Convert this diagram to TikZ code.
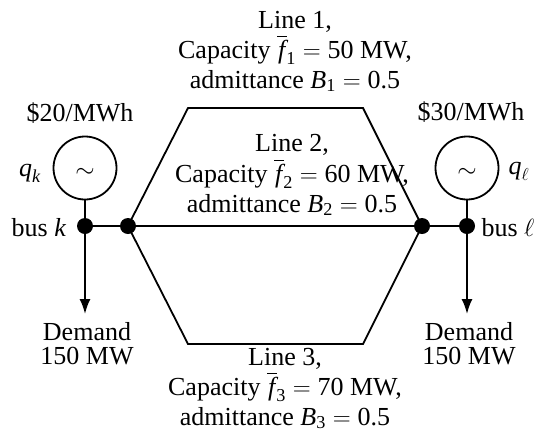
\documentclass[tikz,border=0pt]{standalone}
\usepackage{amsmath}
\usepackage{fontspec}
\setmainfont{Liberation Serif}
\usetikzlibrary{arrows.meta}
\newcommand{\vi}[1]{\textit{#1}}
\newcommand{\capty}[2]{Capacity $\overline{\kern1pt\vi{f}\kern2pt}_{\kern-1pt\text{#1}}=\text{#2}$ MW,}
\newcommand{\admt}[1]{admittance $\vi{B}_{\text{#1}}=\text{0.5}$}
\begin{document}
\begin{tikzpicture}[x=1pt,y=-1pt,
  wire/.style={line width=1.8pt},
  busdot/.style={circle,fill=black,inner sep=0pt,minimum size=16pt},
  gen/.style={circle,draw,line width=1.8pt,minimum size=63pt,inner sep=0pt},
  lbl/.style={anchor=base,inner sep=0pt,font=\fontsize{26}{30}\selectfont}]
\useasboundingbox (0,0) rectangle (537,440);
% buses
\node[busdot] (bk) at (85,226) {};
\node[busdot] (jl) at (128,226) {};
\node[busdot] (jr) at (422,226) {};
\node[busdot] (bl) at (467,226) {};
% generators
\node[gen] (gk) at (85,168) {};
\node[gen] (gl) at (467,168) {};
\node[lbl] (tk) at (85,177) {$\sim$};
\node[lbl] (tl) at (467,177) {$\sim$};
\draw[wire] (gk.south) -- (bk.center);
\draw[wire] (gl.south) -- (bl.center);
% lines
\coordinate (a1) at (188,108);
\coordinate (a2) at (363,108);
\coordinate (c1) at (188,344);
\coordinate (c2) at (363,344);
\draw[wire] (bk.center) -- (bl.center);
\draw[wire,line join=miter] (jl.center) -- (a1) -- (a2) -- (jr.center);
\draw[wire,line join=miter] (jl.center) -- (c1) -- (c2) -- (jr.center);
% demands
\coordinate (dk) at (85,314);
\coordinate (dl) at (467,314);
\draw[wire,-{Latex[length=15pt,width=11pt]}] (bk.center) -- (dk);
\draw[wire,-{Latex[length=15pt,width=11pt]}] (bl.center) -- (dl);
% labels
\node[lbl] (pk) at (80,121) {\$20/MWh};
\node[lbl] (pl) at (471,120) {\$30/MWh};
\node[lbl] (qk) at (30,176) {$\vi{q}_{\vi{k}}$};
\node[lbl] (ql) at (519,174) {$\vi{q}_\ell$};
\node[lbl] (nk) at (39,236) {bus \vi{k}};
\node[lbl] (nl) at (508,236) {bus $\ell$};
\node[lbl] (d1k) at (87,340) {Demand};
\node[lbl] (d2k) at (87,364) {150 MW};
\node[lbl] (d1l) at (469,340) {Demand};
\node[lbl] (d2l) at (469,364) {150 MW};
% line 1
\node[lbl] (l1a) at (295,28) {Line 1,};
\node[lbl] (l1b) at (295,58) {\capty{1}{50}};
\node[lbl] (l1c) at (295,88) {\admt{1}};
% line 2
\node[lbl] (l2a) at (292,151) {Line 2,};
\node[lbl] (l2b) at (292,182) {\capty{2}{60}};
\node[lbl] (l2c) at (292,212) {\admt{2}};
% line 3
\node[lbl] (l3a) at (285,365) {Line 3,};
\node[lbl] (l3b) at (285,395) {\capty{3}{70}};
\node[lbl] (l3c) at (285,425) {\admt{3}};
\end{tikzpicture}
\end{document}
